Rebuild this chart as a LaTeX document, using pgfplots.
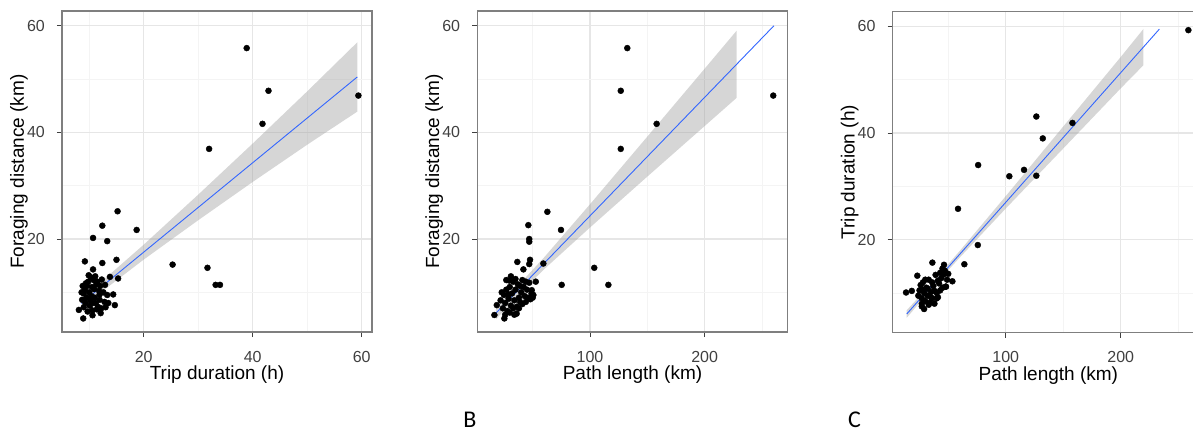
\documentclass[border=0pt]{standalone}
\usepackage{pgfplots}
\pgfplotsset{compat=1.18}
\usepackage{fontspec}
\setmainfont{Liberation Sans}
\newfontfamily\calibri{Carlito}
\definecolor{gridmaj}{HTML}{E6E6E6}
\definecolor{gridmin}{HTML}{F4F4F4}
\definecolor{framecol}{HTML}{7F7F7F}
\definecolor{ticklab}{HTML}{404040}
\definecolor{smoothblue}{HTML}{3366FF}
\definecolor{bandgrey}{HTML}{999999}

\pgfplotsset{
 panel/.style={
   scale only axis, anchor=south west,
   axis line style={framecol, line width=1.3pt},
   tick pos=left, tick align=outside,
   major tick length=5pt, minor tick length=0pt,
   every tick/.style={ticklab, line width=1pt},
   grid=both,
   major grid style={gridmaj, line width=1.3pt},
   minor grid style={gridmin, line width=1pt},
   /pgf/number format/assume math mode=true,
   ymin=2.56, ymax=62.76,
   ytick={20,40,60}, minor ytick={10,30,50},
   ticklabel style={font=\fontsize{16}{19}\selectfont, text=ticklab},
   xticklabel style={anchor=center, yshift=-19.7pt},
   yticklabel style={anchor=east, inner sep=0pt, xshift=-12pt},
   every axis x label/.style={at={(rel axis cs:0.5,0)}, anchor=center, yshift=-43pt, font=\fontsize{19}{23}\selectfont, text=black},
   every axis y label/.style={at={(rel axis cs:0,0.5)}, anchor=center, rotate=90, yshift=43pt, font=\fontsize{19}{23}\selectfont, text=black},
 },
 dots/.style={only marks, mark=*, mark size=3pt, black},
 band/.style={draw=none, fill=bandgrey, fill opacity=0.4, no marks},
 fitline/.style={smoothblue, line width=0.9pt, no marks},
}

\begin{document}
\begin{tikzpicture}
\useasboundingbox (0,0) rectangle (1193pt,434pt);

% ---------- Panel A ----------
\begin{axis}[panel, at={(62pt,102pt)}, width=310pt, height=321pt,
  xmin=5.0, xmax=61.9, xtick={20,40,60}, minor xtick={10,30,50},
  xlabel={Trip duration (h)}, ylabel={Foraging distance (km)}]
\addplot[dots] coordinates {
(38.9,55.8)(42.9,47.8)(59.4,46.9)(41.8,41.6)(32.0,36.9)(15.2,25.2)(12.4,22.5)(18.7,21.7)
(10.7,20.2)(13.3,19.6)(9.2,15.8)(12.4,15.5)(15.0,16.1)(10.7,14.3)(25.3,15.2)(31.7,14.6)
(33.2,11.4)(34.0,11.4)(15.3,12.6)(13.8,12.9)(14.7,7.6)(12.1,6.1)(8.9,5.1)(8.1,6.7)
(10.6,5.7)(14.4,9.6)(13.3,9.5)(11.9,8.6)
(9.0,7.2)(9.3,8.0)(9.5,9.0)(9.0,9.8)(9.2,10.5)(9.6,11.2)(9.8,12.0)(10.0,10.0)
(10.2,8.5)(10.4,9.3)(10.5,11.0)(10.8,12.3)(10.1,7.5)(10.9,10.6)(11.0,9.0)(11.2,8.0)
(11.3,11.5)(11.5,12.0)(11.8,10.3)(12.0,11.2)(11.6,7.3)(10.6,6.6)(9.7,6.4)(8.7,8.6)
(8.6,10.0)(9.4,11.7)(10.3,12.8)(11.1,13.0)(12.3,12.4)(12.6,10.0)(12.8,8.2)(11.4,6.8)
(9.9,13.2)(8.8,11.2)(10.7,8.0)(11.9,9.6)(12.9,11.4)(12.2,7.0)(13.5,8.0)(13.0,7.2)
};
\addplot[band] coordinates {
(8.55,9.14)(13,12.67)(20,18.94)(30,28.32)(40,37.90)(50,47.68)(59.2,56.89)
(59.2,43.89)(50,37.68)(40,30.70)(30,23.52)(20,16.14)(13,10.67)(8.55,6.74)
};
\addplot[fitline] coordinates {(8.55,7.94)(59.2,50.39)};
\end{axis}

% ---------- Panel B ----------
\begin{axis}[panel, at={(477.3pt,102pt)}, width=310.4pt, height=321pt,
  xmin=1.7, xmax=272.4, xtick={100,200}, minor xtick={50,150,250},
  xlabel={Path length (km)}, ylabel={Foraging distance (km)}]
\addplot[dots] coordinates {
(132.5,55.8)(126.8,47.8)(259.8,46.9)(158.1,41.6)(126.8,36.9)(62.8,25.1)(46.2,22.6)(74.7,21.7)
(47.0,20.0)(47.0,19.5)(36.6,15.7)(47.7,16.1)(47.0,15.3)(41.9,14.3)(59.3,15.4)(103.7,14.6)
(75.3,11.4)(116.0,11.4)(52.7,12.0)(29.6,12.2)(16.6,5.75)(25.3,5.1)(18.7,7.6)(36.1,7.3)
(39,8.2)(49.2,10.4)(50.6,9.5)
(24,7.0)(26,8.0)(25,9.5)(27,10.5)(28,6.5)(29,8.8)(30,11.0)(31,7.5)(32,9.8)(33,12.0)
(34,8.5)(35,10.5)(36,6.0)(37,11.5)(38,9.0)(40,10.0)(41,7.8)(42,11.0)(43,9.3)(44,8.2)
(45,10.5)(46,9.0)(47,11.8)(48,8.7)(49,9.8)(30,6.2)(33,7.0)(27,12.3)(22,8.5)(35,12.5)
(38,7.0)(44,12.0)(41,12.3)(31,13.0)(29,9.6)(26,5.8)(34,5.8)(50,9.0)(23,10.0)(39,11.2)
};
\addplot[band] coordinates {
(17.8,7.23)(40,11.9)(60,16.56)(100,26.52)(150,39.21)(200,51.95)(227.9,59.08)
(227.9,46.48)(200,41.19)(150,31.71)(100,22.16)(60,14.34)(40,10.1)(17.8,4.91)
};
\addplot[fitline] coordinates {(17.8,6.07)(260.4,60.0)};
\end{axis}

% ---------- Panel C ----------
\begin{axis}[panel, at={(892.7pt,101.3pt)}, width=311.3pt, height=321pt,
  xmin=1.7, xmax=272.4, xtick={100,200}, minor xtick={50,150,250},
  xlabel={Path length (km)}, ylabel={Trip duration (h)}]
\addplot[dots] coordinates {
(258.8,59.3)(126.6,43.1)(132.2,39.0)(158,41.9)(126.6,32.0)(103.1,31.9)(115.9,33.1)(76,34.0)
(58.5,25.8)(75.7,19.0)(36.2,15.7)(46.3,15.3)(64.0,15.4)(23.1,13.25)(53.6,12.2)(13.3,10.1)
(18.3,10.4)(27,7.5)(47.8,11.2)
(25,10.5)(26,11.5)(27,9.0)(28,12.0)(29,10.0)(30,8.5)(31,11.0)(32,9.5)(33,12.5)(34,8.2)
(35,10.2)(36,9.0)(37,11.3)(38,8.0)(39,13.4)(40,10.0)(41,9.2)(42,11.8)(43,10.5)(44,12.8)
(45,11.0)(46,13.5)(47,14.2)(48,11.2)(49,12.5)(27,8.0)(29,7.0)(30,12.5)(33,7.8)(35,9.2)
(36,12.0)(38,10.4)(40,9.0)(41,12.3)(43,13.8)(45,14.6)(24,9.5)(32,10.8)(28,10.6)(50,13.6)
};
\addplot[band] coordinates {
(13.9,6.77)(40,12.92)(60,17.9)(100,28.17)(150,41.23)(200,54.27)(219.7,59.52)
(219.7,52.72)(200,48.39)(150,37.11)(100,25.85)(60,16.66)(40,11.92)(13.9,5.37)
};
\addplot[fitline] coordinates {(13.9,6.07)(233.6,59.5)};
\end{axis}

\node[font=\calibri\fontsize{24}{28}\selectfont, inner sep=0pt] at (470pt,14pt) {B};
\node[font=\calibri\fontsize{24}{28}\selectfont, inner sep=0pt] at (854.5pt,14pt) {C};
\end{tikzpicture}
\end{document}
